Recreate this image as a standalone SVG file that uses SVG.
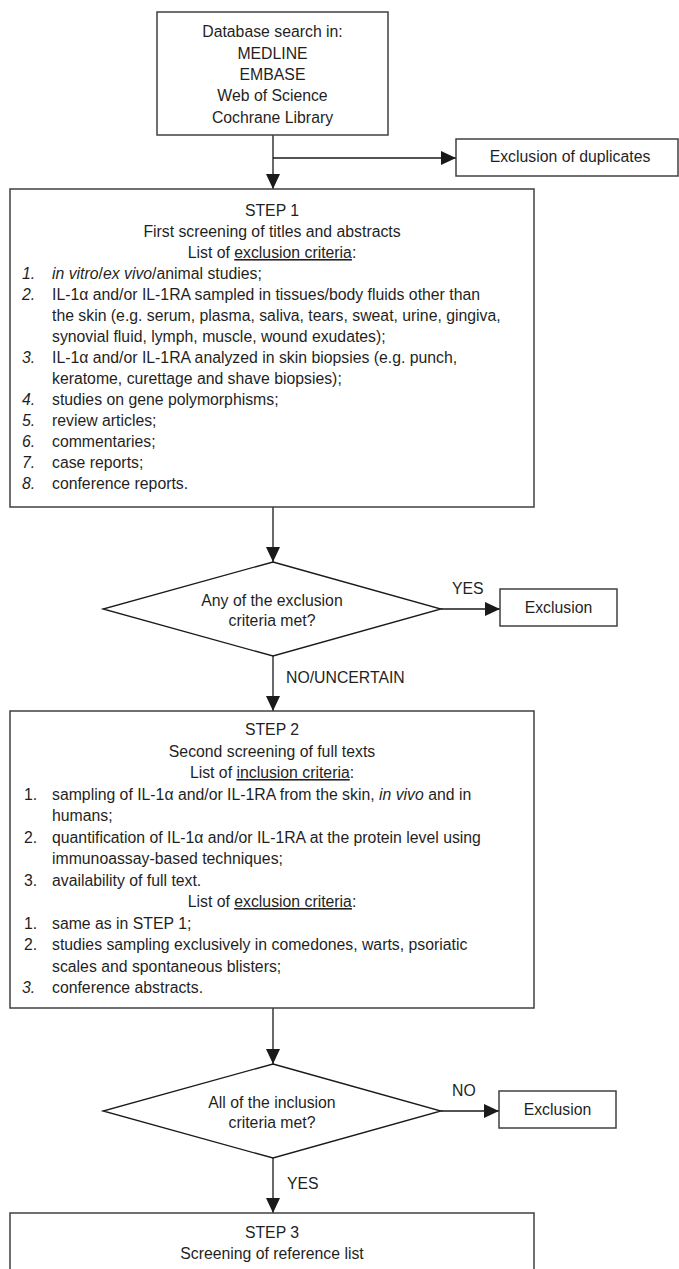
<svg xmlns="http://www.w3.org/2000/svg" width="679" height="1269" viewBox="0 0 679 1269">
<style>
text{font-family:"Liberation Sans",Arial,sans-serif;font-size:15.8px;fill:#1f1f1f}
.c{text-anchor:middle}
.i{font-style:italic}
.u{text-decoration:underline}
.box{fill:#fff;stroke:#404040;stroke-width:1.5}
.dia{fill:#fff;stroke:#1a1a1a;stroke-width:1.3}
.con{fill:none;stroke:#1a1a1a;stroke-width:1.3;marker-end:url(#ah)}
</style>
<defs>
<marker id="ah" markerUnits="userSpaceOnUse" markerWidth="15" markerHeight="14" refX="15" refY="7" orient="auto">
<path d="M0,0 L15,7 L0,14 Z" fill="#1a1a1a"/>
</marker>
</defs>
<rect width="679" height="1269" fill="#fff"/>
<g id="connectors">
<path class="con" d="M273,135 V189"/>
<path class="con" d="M273,158 H456"/>
<path class="con" d="M273,507 V562"/>
<path class="con" d="M441,609 H500"/>
<path class="con" d="M273,656 V711"/>
<path class="con" d="M273,1008 V1064"/>
<path class="con" d="M441,1111 H499"/>
<path class="con" d="M273,1158 V1213"/>
</g>
<g id="labels">
<text x="452" y="594">YES</text>
<text x="286" y="683">NO/UNCERTAIN</text>
<text x="452" y="1096">NO</text>
<text x="287" y="1189">YES</text>
</g>
<g id="search">
<rect class="box" x="157" y="12" width="231" height="123"/>
<text class="c" x="272.5" y="37">Database search in:</text>
<text class="c" x="272.5" y="58.5">MEDLINE</text>
<text class="c" x="272.5" y="80">EMBASE</text>
<text class="c" x="272.5" y="101">Web of Science</text>
<text class="c" x="272.5" y="122.5">Cochrane Library</text>
</g>
<g id="duplicates">
<rect class="box" x="456" y="139" width="222" height="37"/>
<text class="c" x="570" y="162">Exclusion of duplicates</text>
</g>
<g id="step1">
<rect class="box" x="10" y="189" width="524" height="318"/>
<text class="c" x="272" y="216">STEP 1</text>
<text class="c" x="272" y="237">First screening of titles and abstracts</text>
<text class="c" x="272" y="258">List of <tspan class="u">exclusion criteria</tspan>:</text>
<text class="i" x="22" y="279">1.</text><text x="52" y="279"><tspan class="i">in vitro</tspan>/<tspan class="i">ex vivo</tspan>/animal studies;</text>
<text class="i" x="22" y="300">2.</text><text x="52" y="300">IL-1α and/or IL-1RA sampled in tissues/body fluids other than</text>
<text x="52" y="321">the skin (e.g. serum, plasma, saliva, tears, sweat, urine, gingiva,</text>
<text x="52" y="342">synovial fluid, lymph, muscle, wound exudates);</text>
<text class="i" x="22" y="363">3.</text><text x="52" y="363">IL-1α and/or IL-1RA analyzed in skin biopsies (e.g. punch,</text>
<text x="52" y="384">keratome, curettage and shave biopsies);</text>
<text class="i" x="22" y="405">4.</text><text x="52" y="405">studies on gene polymorphisms;</text>
<text class="i" x="22" y="426">5.</text><text x="52" y="426">review articles;</text>
<text class="i" x="22" y="447">6.</text><text x="52" y="447">commentaries;</text>
<text class="i" x="22" y="468">7.</text><text x="52" y="468">case reports;</text>
<text class="i" x="22" y="489">8.</text><text x="52" y="489">conference reports.</text>
</g>
<g id="decision1">
<polygon class="dia" points="273,562 441,609 273,656 103,609"/>
<text class="c" x="272" y="606">Any of the exclusion</text>
<text class="c" x="272" y="626">criteria met?</text>
</g>
<g id="exclusion1">
<rect class="box" x="500" y="589" width="117" height="37"/>
<text class="c" x="558.5" y="613">Exclusion</text>
</g>
<g id="step2">
<rect class="box" x="10" y="711" width="524" height="297"/>
<text class="c" x="272" y="735">STEP 2</text>
<text class="c" x="272" y="756.5">Second screening of full texts</text>
<text class="c" x="272" y="778">List of <tspan class="u">inclusion criteria</tspan>:</text>
<text x="24" y="799.5">1.</text><text x="52" y="799.5">sampling of IL-1α and/or IL-1RA from the skin, <tspan class="i">in vivo</tspan> and in</text>
<text x="52" y="821">humans;</text>
<text x="24" y="842.5">2.</text><text x="52" y="842.5">quantification of IL-1α and/or IL-1RA at the protein level using</text>
<text x="52" y="864">immunoassay-based techniques;</text>
<text x="24" y="885.5">3.</text><text x="52" y="885.5">availability of full text.</text>
<text class="c" x="272" y="907">List of <tspan class="u">exclusion criteria</tspan>:</text>
<text x="24" y="928.5">1.</text><text x="52" y="928.5">same as in STEP 1;</text>
<text x="24" y="950">2.</text><text x="52" y="950">studies sampling exclusively in comedones, warts, psoriatic</text>
<text x="52" y="971.5">scales and spontaneous blisters;</text>
<text class="i" x="22" y="993">3.</text><text x="52" y="993">conference abstracts.</text>
</g>
<g id="decision2">
<polygon class="dia" points="273,1064 441,1111 273,1158 103,1111"/>
<text class="c" x="272" y="1108">All of the inclusion</text>
<text class="c" x="272" y="1128">criteria met?</text>
</g>
<g id="exclusion2">
<rect class="box" x="499" y="1091" width="117" height="37"/>
<text class="c" x="557.5" y="1115">Exclusion</text>
</g>
<g id="step3">
<rect class="box" x="10" y="1213" width="524" height="100"/>
<text class="c" x="272" y="1238">STEP 3</text>
<text class="c" x="272" y="1259">Screening of reference list</text>
</g>
</svg>
